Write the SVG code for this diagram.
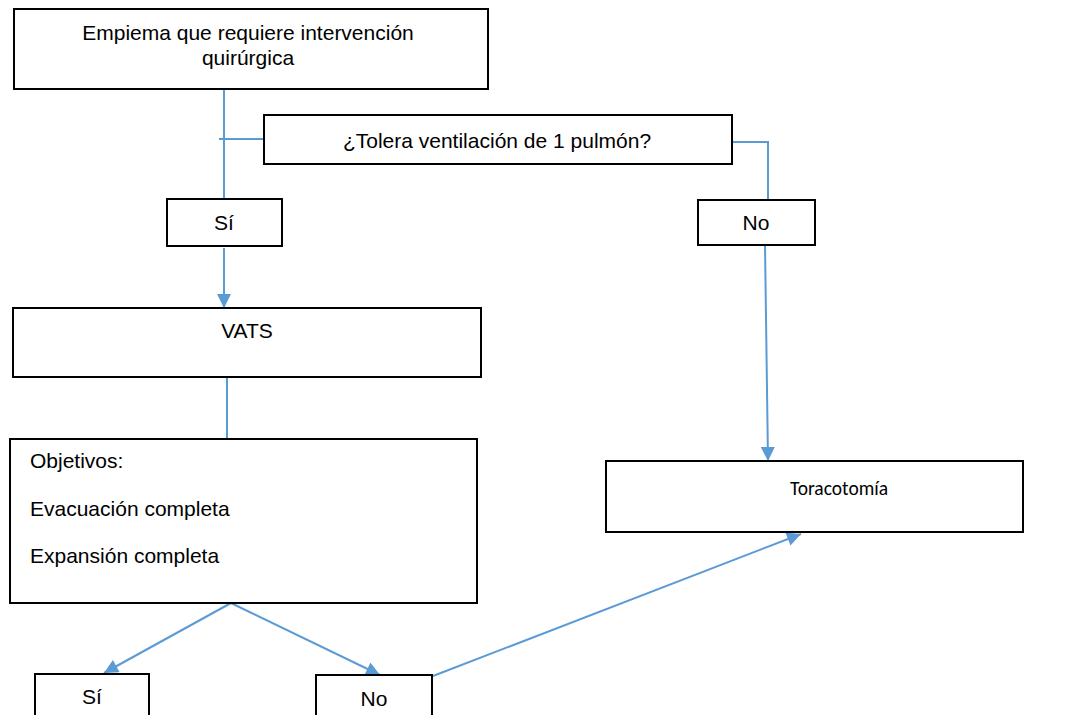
<svg xmlns="http://www.w3.org/2000/svg" width="1080" height="715" viewBox="0 0 1080 715">
<style>
.box{fill:#fff;stroke:#000;stroke-width:2}
.t{font-family:"Liberation Sans",Arial,sans-serif;font-size:21px;fill:#000}
.c{text-anchor:middle}
.cal{font-family:Carlito,Lato,"Open Sans",sans-serif;font-size:19.5px;fill:#000;text-anchor:middle}
.ln{stroke:#5B9BD5;stroke-width:2;fill:none}
</style>
<defs>
<marker id="ah" viewBox="0 0 10 10" refX="10" refY="5" markerWidth="7.5" markerHeight="7" markerUnits="strokeWidth" orient="auto">
<path d="M0,0 L10,5 L0,10 Z" fill="#5B9BD5"/>
</marker>
</defs>
<g id="connectors">
<line class="ln" x1="224" y1="89" x2="224" y2="199"/>
<line class="ln" x1="219" y1="139" x2="264" y2="139"/>
<polyline class="ln" points="732,142 768,142 768,200"/>
<line class="ln" x1="224" y1="248" x2="224" y2="308" marker-end="url(#ah)"/>
<line class="ln" x1="227" y1="377" x2="227" y2="438"/>
<line class="ln" x1="765" y1="245" x2="768" y2="461" marker-end="url(#ah)"/>
<line class="ln" x1="231" y1="603" x2="104" y2="673" marker-end="url(#ah)"/>
<line class="ln" x1="231" y1="603" x2="380" y2="675" marker-end="url(#ah)"/>
<line class="ln" x1="433" y1="676" x2="801" y2="534" marker-end="url(#ah)"/>
</g>
<g id="n1">
<rect class="box" x="14" y="9" width="474" height="80"/>
<text class="t c" x="248" y="40">Empiema que requiere intervención</text>
<text class="t c" x="248" y="65">quirúrgica</text>
</g>
<g id="n2">
<rect class="box" x="264" y="115" width="468" height="49"/>
<text class="t c" x="497" y="148">¿Tolera ventilación de 1 pulmón?</text>
</g>
<g id="n3">
<rect class="box" x="167" y="199" width="115" height="47"/>
<text class="t c" x="224" y="230">Sí</text>
</g>
<g id="n4">
<rect class="box" x="698" y="200" width="117" height="45"/>
<text class="t c" x="756" y="230">No</text>
</g>
<g id="n5">
<rect class="box" x="13" y="308" width="468" height="69"/>
<text class="t c" x="247" y="338">VATS</text>
</g>
<g id="n6">
<rect class="box" x="10" y="439" width="467" height="164"/>
<text class="t" x="30" y="468">Objetivos:</text>
<text class="t" x="30" y="516">Evacuación completa</text>
<text class="t" x="30" y="563">Expansión completa</text>
</g>
<g id="n7">
<rect class="box" x="606" y="461" width="417" height="71"/>
<text class="cal" x="839" y="495">Toracotomía</text>
</g>
<g id="n8">
<rect class="box" x="35" y="674" width="114" height="50"/>
<text class="t c" x="92" y="704">Sí</text>
</g>
<g id="n9">
<rect class="box" x="316" y="675" width="116" height="50"/>
<text class="t c" x="374" y="706">No</text>
</g>
</svg>
